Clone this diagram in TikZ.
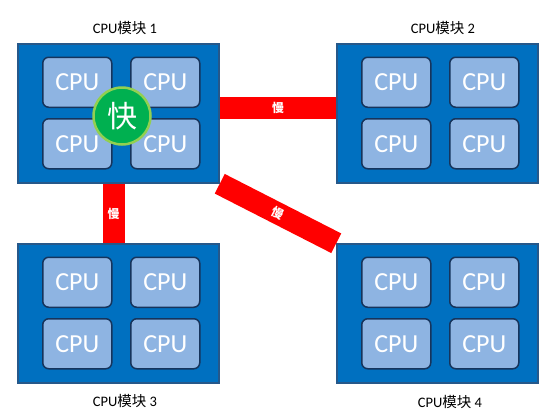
\documentclass[tikz,border=0pt]{standalone}
\usepackage{fontspec}
\setmainfont{Carlito}
\newfontfamily\cjk{Noto Sans CJK SC}
\definecolor{modfill}{RGB}{0,112,192}
\definecolor{modborder}{RGB}{38,88,138}
\definecolor{cpufill}{RGB}{142,180,226}
\definecolor{cpuborder}{RGB}{22,52,92}
\definecolor{barred}{RGB}{255,0,0}
\definecolor{fastgreen}{RGB}{0,176,80}
\definecolor{fastborder}{RGB}{146,208,80}
\begin{document}
\begin{tikzpicture}[x=1pt,y=-1pt,
  module/.style={draw=modborder, fill=modfill, line width=1.5pt, minimum width=201pt, minimum height=139pt, inner sep=0pt},
  cpu/.style={draw=cpuborder, fill=cpufill, line width=1.5pt, rounded corners=6pt, minimum width=69pt, minimum height=50pt, inner sep=0pt, text=white, font=\fontsize{26}{26}\selectfont},
  title/.style={font=\fontsize{14.5}{16}\selectfont, text=black, inner sep=0pt},
  bar/.style={draw=barred, line width=22pt},
  slow/.style={text=white, font=\cjk\bfseries\fontsize{12}{12}\selectfont, inner sep=0pt},
  fast/.style={circle, fill=fastgreen, draw=fastborder, line width=2.5pt, minimum size=57pt, inner sep=0pt, text=white, font=\cjk\fontsize{30}{30}\selectfont}
]
\useasboundingbox (0,0) rectangle (553,418);

% modules
\node[module] (m1) at (118.5,113.5) {};
\node[module] (m2) at (437.5,113.5) {};
\node[module] (m3) at (118.5,313.5) {};
\node[module] (m4) at (437.5,313.5) {};

% titles
\node[title] (t1) at (125,28) {CPU{\cjk 模块} 1};
\node[title] (t2) at (443,28) {CPU{\cjk 模块} 2};
\node[title] (t3) at (125,401) {CPU{\cjk 模块} 3};
\node[title] (t4) at (450,402) {CPU{\cjk 模块} 4};

% cpus
\foreach \m in {1,2,3,4}{
  \node[cpu] (c\m a) at ([shift={(60,39)}]m\m.north west) {CPU};
  \node[cpu] (c\m b) at ([shift={(148,39)}]m\m.north west) {CPU};
  \node[cpu] (c\m c) at ([shift={(60,100.5)}]m\m.north west) {CPU};
  \node[cpu] (c\m d) at ([shift={(148,100.5)}]m\m.north west) {CPU};
}

% slow links
\draw[bar] ([yshift=5.5pt]m1.east) -- node[slow]{慢} ([yshift=5.5pt]m2.west);
\draw[bar] ([xshift=-5pt]m1.south) -- node[slow]{慢} ([xshift=-5pt]m3.north);
\draw[bar] (m1.south east) -- node[slow, sloped]{慢} (m4.north west);

% fast
\node[fast] (f) at (122,116) {快};
\end{tikzpicture}
\end{document}
